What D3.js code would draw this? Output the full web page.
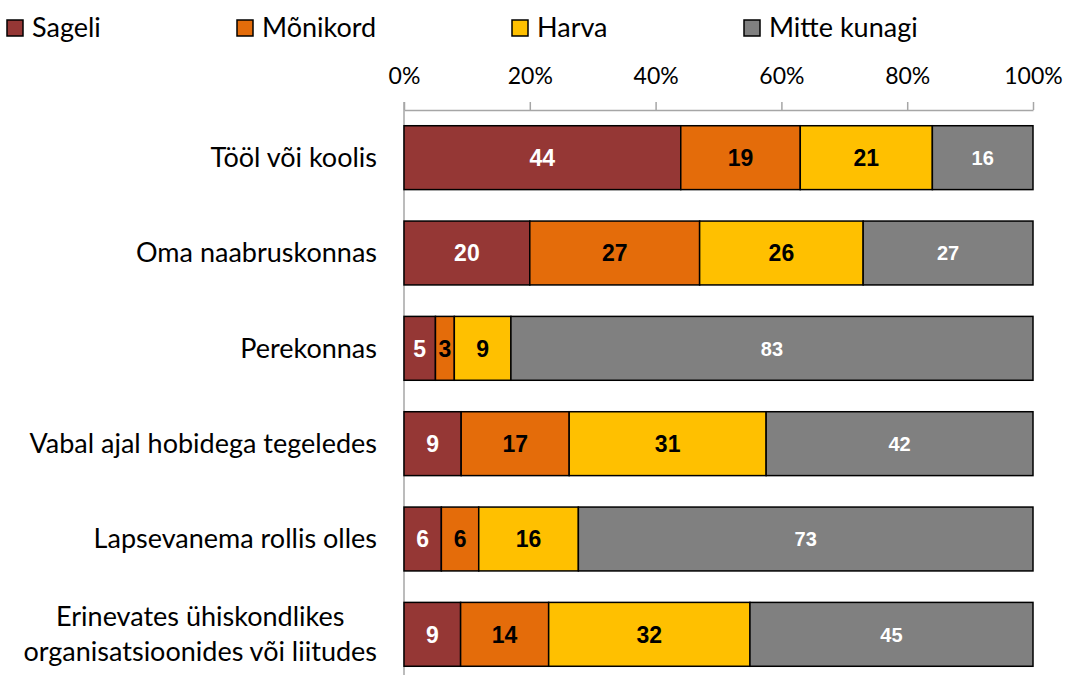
<!DOCTYPE html>
<html>
<head>
<meta charset="utf-8">
<script src="https://cdn.jsdelivr.net/npm/d3@7"></script>
<style>
  html, body { margin: 0; padding: 0; background: #fff; }
  svg { display: block; }
</style>
</head>
<body>
<svg id="chart" width="1065" height="675"></svg>
<script>
"use strict";

// ─── Data ─────────────────────────────────────────────────────────────────────
const categories = [
  "Tööl või koolis",
  "Oma naabruskonnas",
  "Perekonnas",
  "Vabal ajal hobidega tegeledes",
  "Lapsevanema rollis olles",
  "Erinevates ühiskondlikes|organisatsioonides või liitudes",
];
const seriesNames = ["Sageli", "Mõnikord", "Harva", "Mitte kunagi"];
const sageli      = [44, 20, 5, 9, 6, 9];
const monikord    = [19, 27, 3, 17, 6, 14];
const harva       = [21, 26, 9, 31, 16, 32];
const mitteKunagi = [16, 27, 83, 42, 73, 45];
const tickValues  = [0, 20, 40, 60, 80, 100];

const seriesColors = ["#953735", "#E46C0A", "#FFC000", "#808080"];
const labelColors  = ["#ffffff", "#000000", "#000000", "#ffffff"];

const FONT = "Lato, 'Open Sans', sans-serif";
const VALUE_FONT = "'Liberation Sans', Arial, sans-serif";

// rows for the stack (100% stacked, like the original: each row normalised)
const rows = categories.map((c, i) => ({
  cat: c,
  "Sageli": sageli[i],
  "Mõnikord": monikord[i],
  "Harva": harva[i],
  "Mitte kunagi": mitteKunagi[i],
}));

const svg = d3.select("#chart");

const x = d3.scaleLinear().domain([0, 1]).range([404, 1033]);
const y = d3.scaleBand()
  .domain(categories)
  .range([110, 682])
  .paddingInner(0.33)
  .paddingOuter(0.165);

const stack = d3.stack().keys(seriesNames).offset(d3.stackOffsetExpand)(rows);

// ── Top axis ────────────────────────────────────────────────────────────────
const axis = svg.append("g")
  .attr("transform", `translate(0,${y.range()[0]})`)
  .call(d3.axisTop(x)
    .tickValues(tickValues.map((t) => t / 100))
    .tickFormat((d) => Math.round(d * 100) + "%")
    .tickSize(8).tickSizeOuter(0));
axis.select(".domain").attr("stroke", "#a6a6a6").attr("stroke-width", 1.5);
axis.selectAll(".tick line").attr("stroke", "#a6a6a6").attr("stroke-width", 1.5);
axis.selectAll(".tick text")
  .attr("y", -34)
  .attr("dy", "0.35em")
  .attr("fill", "#000")
  .style("font-family", FONT)
  .style("font-size", "23px");

// vertical category axis line
svg.append("line")
  .attr("x1", x(0)).attr("x2", x(0))
  .attr("y1", y.range()[0] - 8).attr("y2", 675)
  .attr("stroke", "#a6a6a6").attr("stroke-width", 1.5);

// ── Bars ────────────────────────────────────────────────────────────────────
const layers = svg.selectAll("g.layer")
  .data(stack)
  .join("g")
  .attr("class", "layer");

layers.selectAll("rect")
  .data((s) => s.map((d) => ({ d, key: s.key })))
  .join("rect")
  .attr("x", (p) => x(p.d[0]))
  .attr("y", (p) => y(p.d.data.cat))
  .attr("width", (p) => x(p.d[1]) - x(p.d[0]))
  .attr("height", y.bandwidth())
  .attr("fill", (p) => seriesColors[seriesNames.indexOf(p.key)])
  .attr("stroke", "#000")
  .attr("stroke-width", 1.5);

layers.selectAll("text")
  .data((s) => s.map((d) => ({ d, key: s.key })))
  .join("text")
  .attr("x", (p) => (x(p.d[0]) + x(p.d[1])) / 2)
  .attr("y", (p) => y(p.d.data.cat) + y.bandwidth() / 2)
  .attr("dy", "0.36em")
  .attr("text-anchor", "middle")
  .attr("fill", (p) => labelColors[seriesNames.indexOf(p.key)])
  .style("font-family", VALUE_FONT)
  .style("font-weight", "bold")
  .style("font-size", (p) => (p.key === "Mitte kunagi" ? "20px" : "23px"))
  .text((p) => p.d.data[p.key]);

// ── Category labels ─────────────────────────────────────────────────────────
// multi-line labels: lines centred on each other, block right-aligned
const LABEL_RIGHT = 377;
categories.forEach((c) => {
  const lines = c.split("|");
  const cy = y(c) + y.bandwidth() / 2;
  const t = svg.append("text")
    .attr("fill", "#000")
    .style("font-family", FONT)
    .style("font-size", "27px");
  const spans = lines.map((ln, i) => t.append("tspan")
    .attr("y", cy + (i - (lines.length - 1) / 2) * 35)
    .attr("dy", "0.35em")
    .text(ln));
  if (lines.length === 1) {
    t.attr("text-anchor", "end");
    spans[0].attr("x", LABEL_RIGHT);
  } else {
    const widest = d3.max(spans, (s) => s.node().getComputedTextLength());
    t.attr("text-anchor", "middle");
    spans.forEach((s) => s.attr("x", LABEL_RIGHT - widest / 2));
  }
});

// ── Legend ──────────────────────────────────────────────────────────────────
const legendX = [7, 237, 512, 744];
const legend = svg.selectAll("g.legend")
  .data(seriesNames)
  .join("g")
  .attr("class", "legend")
  .attr("transform", (d, i) => `translate(${legendX[i]},28)`);
legend.append("rect")
  .attr("x", 0).attr("y", -8)
  .attr("width", 16).attr("height", 16)
  .attr("fill", (d, i) => seriesColors[i])
  .attr("stroke", "#000").attr("stroke-width", 1.5);
legend.append("text")
  .attr("x", 25)
  .attr("dy", "0.35em")
  .attr("fill", "#000")
  .style("font-family", FONT)
  .style("font-size", "27px")
  .text((d) => d);
</script>
</body>
</html>
